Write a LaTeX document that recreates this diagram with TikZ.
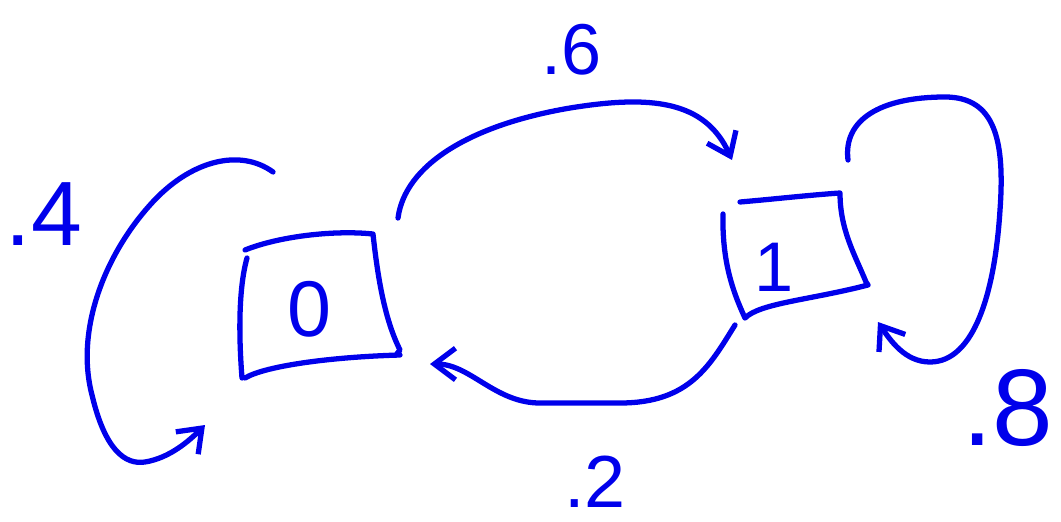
\documentclass[tikz,border=0pt]{standalone}
\usepackage{fontspec}
\setmainfont{Liberation Sans}
\usetikzlibrary{arrows.meta}
\definecolor{ink}{RGB}{0,0,235}
\begin{document}
\begin{tikzpicture}[x=0.02cm,y=-0.02cm,
  pen/.style={draw=ink,line width=3pt,line cap=round,line join=round},
  edge/.style={pen,-{Straight Barb[length=12pt,width=18pt]}},
  lbl/.style={text=ink,inner sep=0pt}]
\useasboundingbox (0,0) rectangle (1061,521);
% state 0 box
\draw[pen] (245,250) .. controls (280,236) and (335,230) .. (373,234)
  (373,234) .. controls (378,280) and (385,320) .. (400,350) -- (396,355)
  (400,355) .. controls (330,357) and (265,366) .. (245,378)
  (247,258) .. controls (238,290) and (239,340) .. (242,378);
% state 1 box
\draw[pen] (740,202) .. controls (775,199) and (810,195) .. (840,193)
  (840,193) .. controls (840,230) and (855,255) .. (866,282) -- (868,285)
  (868,285) .. controls (810,300) and (760,303) .. (745,318)
  (723,214) .. controls (722,260) and (732,290) .. (745,318);
% state labels
\node[lbl,font=\fontsize{45}{45}\selectfont] (s0) at (309,309) {0};
\node[lbl,font=\fontsize{40}{40}\selectfont] (s1) at (774,267) {1};
% connector end points
\coordinate (l0s) at (273,172);
\coordinate (l0e) at (205,425);
\coordinate (a01s) at (398,218);
\coordinate (a01e) at (732,160);
\coordinate (a10s) at (735,325);
\coordinate (a10e) at (430,364);
\coordinate (l1s) at (848,160);
\coordinate (l1e) at (878,322);
% self loop on 0
\draw[edge] (l0s) .. controls (240,148) and (190,160) .. (150,205)
  .. controls (105,255) and (75,330) .. (92,395)
  .. controls (105,450) and (125,465) .. (145,462)
  .. controls (170,458) and (190,440) .. (l0e);
% 0 -> 1
\draw[edge] (a01s) .. controls (405,165) and (470,125) .. (570,108)
  .. controls (650,95) and (705,100) .. (a01e);
% 1 -> 0
\draw[edge] (a10s) .. controls (710,365) and (690,403) .. (620,403)
  -- (540,403) .. controls (495,403) and (470,364) .. (a10e);
% self loop on 1
\draw[edge] (l1s) .. controls (843,120) and (880,97) .. (945,97)
  .. controls (995,97) and (1005,140) .. (1000,210)
  .. controls (995,290) and (975,362) .. (930,362)
  .. controls (905,362) and (890,340) .. (l1e);
% probabilities
\node[lbl,font=\fontsize{52}{52}\selectfont] (p4) at (44,214) {.4};
\node[lbl,font=\fontsize{41}{41}\selectfont] (p6) at (572,50) {.6};
\node[lbl,font=\fontsize{42}{42}\selectfont] (p2) at (595,482) {.2};
\node[lbl,font=\fontsize{62}{62}\selectfont] (p8) at (1008,408) {.8};
\end{tikzpicture}
\end{document}
